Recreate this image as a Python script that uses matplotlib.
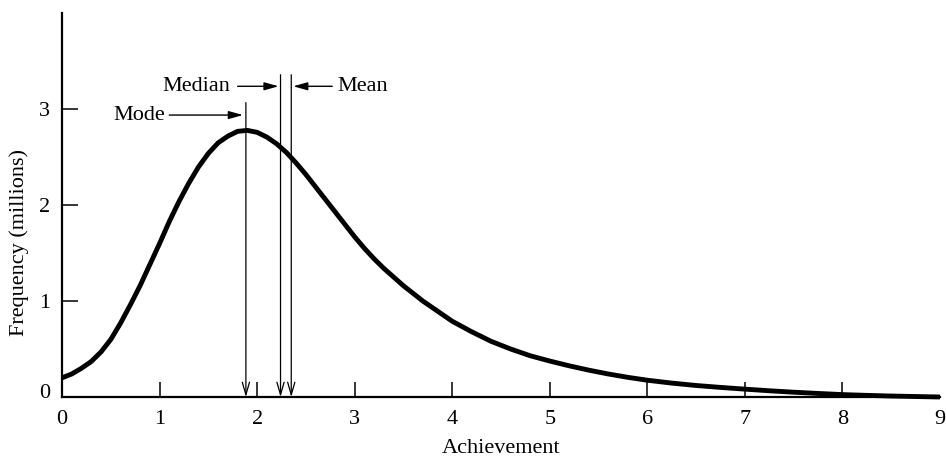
import matplotlib
matplotlib.use("Agg")
import matplotlib.pyplot as plt
from matplotlib.transforms import ScaledTranslation

plt.rcParams['font.family'] = ['Liberation Serif', 'DejaVu Serif']

# Curve (achievement, frequency in millions)
achievement = [0.0, 0.1, 0.2, 0.3, 0.4, 0.5, 0.6, 0.7, 0.8, 0.9,
               1.0, 1.1, 1.2, 1.3, 1.4, 1.5, 1.6, 1.7, 1.8, 1.9,
               2.0, 2.1, 2.2, 2.3, 2.4, 2.5, 2.6, 2.7, 2.8, 2.9,
               3.0, 3.1, 3.2, 3.3, 3.4, 3.5, 3.6, 3.7, 3.8, 3.9,
               4.0, 4.2, 4.4, 4.6, 4.8, 5.0, 5.2, 5.4, 5.6, 5.8,
               6.0, 6.25, 6.5, 6.75, 7.0, 7.25, 7.5, 7.75, 8.0, 8.25,
               8.5, 8.75, 9.0]
frequency = [0.20, 0.24, 0.30, 0.37, 0.47, 0.60, 0.77, 0.96, 1.16, 1.38,
             1.60, 1.83, 2.04, 2.23, 2.40, 2.54, 2.65, 2.72, 2.77, 2.78,
             2.76, 2.71, 2.64, 2.55, 2.44, 2.32, 2.19, 2.06, 1.93, 1.80,
             1.67, 1.55, 1.44, 1.34, 1.25, 1.16, 1.08, 1.00, 0.93, 0.86,
             0.79, 0.68, 0.58, 0.50, 0.43, 0.375, 0.325, 0.28, 0.24, 0.205,
             0.175, 0.145, 0.12, 0.10, 0.082, 0.065, 0.05, 0.037, 0.025, 0.017,
             0.01, 0.005, 0.0]

# Measures of central tendency
measure_names = ["Mode", "Median", "Mean"]
measure_x = [1.885, 2.24, 2.35]

x_ticks = [0, 1, 2, 3, 4, 5, 6, 7, 8, 9]
y_ticks = [0, 1, 2, 3]

FS = 16
fig = plt.figure(figsize=(9.46, 4.57), dpi=100)
ax = fig.add_axes([62/946, 60/457, 878/946, 383.6/457])

ax.plot(achievement, frequency, color='black', lw=3.5, solid_capstyle='butt',
        solid_joinstyle='round', clip_on=False, zorder=3)

ax.set_xlim(0, 9)
ax.set_ylim(0, 4.0)
for s in ['top', 'right']:
    ax.spines[s].set_visible(False)
for s in ['left', 'bottom']:
    ax.spines[s].set_linewidth(1.6)

ax.set_xticks(x_ticks)
ax.set_xticklabels([str(v) for v in x_ticks])
ax.set_yticks(y_ticks)
ax.set_yticklabels([str(v) for v in y_ticks])
ax.tick_params(axis='x', direction='in', length=10.8, width=1.1, pad=9,
               labelsize=FS)
ax.tick_params(axis='y', direction='in', length=11.5, width=1.1, pad=8.5,
               labelsize=FS)
ax.xaxis.get_major_ticks()[-1].tick1line.set_visible(False)
lab0 = ax.yaxis.get_major_ticks()[0].label1
lab0.set_transform(lab0.get_transform() +
                   ScaledTranslation(0, 6/100, fig.dpi_scale_trans))

ax.set_xlabel("Achievement", fontsize=FS, labelpad=7.5)
fig.text(19/946, 1 - 243/457, "Frequency (millions)", rotation=90,
         ha='center', va='center', fontsize=FS)

# vertical lines with open arrowheads down to the axis
tops = [3.07, 3.36, 3.36]
for xv, top in zip(measure_x, tops):
    ax.annotate('', xy=(xv, 0), xytext=(xv, top),
                arrowprops=dict(arrowstyle='->, head_length=0.45, head_width=0.13',
                                lw=0.9, color='black', shrinkA=0, shrinkB=0,
                                mutation_scale=20))

filled = dict(arrowstyle='-|>, head_length=0.43, head_width=0.12', lw=1.0,
              color='black', shrinkA=0, shrinkB=0, mutation_scale=20)
# Mode label
ax.text(1.055, 2.94, measure_names[0], ha='right', va='center', fontsize=FS)
ax.annotate('', xy=(measure_x[0] - 0.03, 2.94), xytext=(1.10, 2.94), arrowprops=filled)
# Median label
ax.text(1.72, 3.24, measure_names[1], ha='right', va='center', fontsize=FS)
ax.annotate('', xy=(measure_x[1] - 0.02, 3.24), xytext=(1.80, 3.24), arrowprops=filled)
# Mean label
ax.text(2.82, 3.24, measure_names[2], ha='left', va='center', fontsize=FS)
ax.annotate('', xy=(measure_x[2] + 0.02, 3.24), xytext=(2.77, 3.24), arrowprops=filled)

fig.savefig("out.png", dpi=100)
